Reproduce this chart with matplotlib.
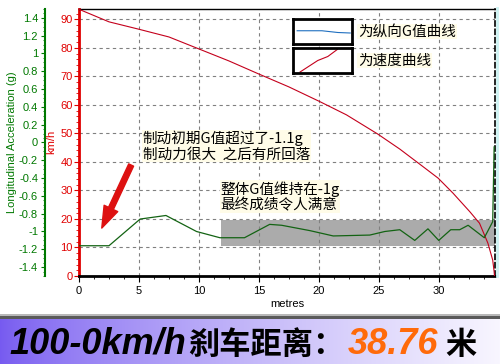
import matplotlib
matplotlib.use('Agg')
import matplotlib.pyplot as plt
import numpy as np
from matplotlib.patches import Rectangle
from matplotlib.lines import Line2D
from matplotlib.ticker import MultipleLocator

plt.rcParams['font.family'] = ['Liberation Sans', 'Noto Sans CJK SC', 'DejaVu Sans']
plt.rcParams['font.size'] = 8
CJK = ['Noto Sans CJK SC', 'DejaVu Sans']

# speed curve, km/h over metres
dist = [0, 2.5, 5, 7.5, 10, 12.5, 15, 17.5, 20.1, 22.3, 24.9, 26.75, 28.7, 29.95,
        31.2, 32.6, 33.4, 34.1, 34.5, 34.62, 34.65]
speed = [93.5, 89.1, 86.5, 83.8, 79.6, 75.4, 70.8, 66.3, 61.1, 56.5, 49.8, 44.5, 38.3, 34.3,
         29.0, 22.5, 18.5, 11.5, 5.6, 1.5, 0]

# longitudinal G over metres
g_dist = [0, 2.5, 5.1, 7.25, 9.8, 11.75, 13.8, 15.9, 16.9, 19.25, 21.2, 24.25, 25.5, 26.75,
          28.0, 29.1, 30.0, 31.0, 31.75, 32.45, 33.8, 34.5, 34.62]
g_val = [-1.16, -1.16, -0.86, -0.82, -1.0, -1.07, -1.07, -0.92, -0.93, -0.99, -1.05, -1.04,
         -1.0, -0.98, -1.10, -0.97, -1.10, -0.98, -0.98, -0.93, -1.07, -0.89, -0.05]

# grey band (drawn on the km/h scale)
band_x = [11.85, 34.65]
band_lo, band_hi = 10.5, 19.8

x_ticks = [0, 5, 10, 15, 20, 25, 30]
kmh_ticks = [0, 10, 20, 30, 40, 50, 60, 70, 80, 90]
g_ticks = [-1.4, -1.2, -1.0, -0.8, -0.6, -0.4, -0.2, 0, 0.2, 0.4, 0.6, 0.8, 1.0, 1.2, 1.4]
g_labels = ['-1.4', '-1.2', '-1', '-0.8', '-0.6', '-0.4', '-0.2', '0',
            '0.2', '0.4', '0.6', '0.8', '1', '1.2', '1.4']

# little sample lines inside the legend boxes
leg_g_x = [0.07, 0.49, 0.76, 0.97]
leg_g_y = [0.53, 0.53, 0.46, 0.44]
leg_v_x = [0.12, 0.42, 0.59, 0.75]
leg_v_y = [0.04, 0.5, 0.66, 0.94]

W, H = 500, 364
RED = '#e00000'
GREEN = '#007800'

fig = plt.figure(figsize=(5, 3.64), dpi=100)
ax = fig.add_axes([79 / W, 1 - 276 / H, (494.5 - 79) / W, 267 / H])
ax.set_xlim(0, 34.65)
ax.set_ylim(0, 93.6)

ax.grid(True, color='#808080', ls=(0, (3, 3)), lw=0.8, zorder=0)
ax.fill_between(band_x, band_lo, band_hi, color='#ababab', lw=0, zorder=1)
ax.plot(dist, speed, color='#c4001c', lw=0.8, zorder=3)

ax.set_xticks(x_ticks)
ax.xaxis.set_minor_locator(MultipleLocator(1.25))
ax.tick_params(axis='x', which='major', length=4, pad=3, labelsize=8)
ax.tick_params(axis='x', which='minor', length=2.5)
ax.set_yticks(kmh_ticks)
ax.yaxis.set_minor_locator(MultipleLocator(2))
ax.tick_params(axis='y', which='major', length=3.5, pad=1, color=RED, labelcolor=RED, labelsize=8)
ax.tick_params(axis='y', which='minor', length=2, color=RED)

ax.spines['left'].set_color(RED)
ax.spines['left'].set_linewidth(2)
ax.spines['bottom'].set_linewidth(2)
ax.spines['top'].set_linewidth(1)
ax.spines['right'].set_linestyle((0, (3, 2)))
ax.spines['right'].set_linewidth(1.2)

# G axis on the far left
ax2 = ax.twinx()
ax2.set_ylim(-1.5, 1.5)
ax2.plot(g_dist, g_val, color='#136313', lw=0.9, zorder=4)
ax2.yaxis.set_ticks_position('left')
ax2.yaxis.set_label_position('left')
ax2.spines['left'].set_position(('axes', (45 - 79) / 415.5))
ax2.spines['left'].set_color(GREEN)
ax2.spines['left'].set_linewidth(1.5)
for s in ['right', 'top', 'bottom']:
    ax2.spines[s].set_visible(False)
ax2.set_yticks(g_ticks, g_labels)
ax2.yaxis.set_minor_locator(MultipleLocator(0.05))
ax2.tick_params(axis='y', which='major', length=3, pad=2, color=GREEN, labelcolor=GREEN, labelsize=8)
ax2.tick_params(axis='y', which='minor', length=1.5, color=GREEN)

fig.text(51 / W, 1 - 142 / H, 'km/h', rotation=90, color=RED, ha='center', va='center', fontsize=8)
fig.text(12 / W, 1 - 142 / H, 'Longitudinal Acceleration (g)', rotation=90, color=GREEN,
         ha='center', va='center', fontsize=8)
fig.text(287 / W, 1 - 304 / H, 'metres', ha='center', va='center', fontsize=8)

box = dict(fc='#fffce8', ec='none', pad=0.5)
ax.text(5.3, 45.6, '制动初期G值超过了-1.1g\n制动力很大  之后有所回落', family=CJK,
        fontsize=10.5, va='center', ha='left', linespacing=1.1, bbox=box, zorder=6)
ax.text(11.8, 27.8, '整体G值维持在-1g\n最终成绩令人满意', family=CJK,
        fontsize=10.5, va='center', ha='left', linespacing=1.1, bbox=box, zorder=6)

ax.annotate('', xy=(1.9, 16.8), xytext=(4.35, 38.9),
            arrowprops=dict(arrowstyle='simple,head_length=1.3,head_width=0.9,tail_width=0.32',
                            color='#dd1111', mutation_scale=12, shrinkA=0, shrinkB=0), zorder=7)

# legend boxes
for top, xs, ys, col, label in [(19, leg_g_x, leg_g_y, '#1f6fc0', '为纵向G值曲线'),
                                (48, leg_v_x, leg_v_y, '#c4001c', '为速度曲线')]:
    lax = fig.add_axes([293 / W, 1 - (top + 25) / H, 59 / W, 25 / H])
    lax.set_xlim(0, 1)
    lax.set_ylim(0, 1)
    lax.plot(xs, ys, color=col, lw=0.8)
    lax.set_xticks([])
    lax.set_yticks([])
    for s in lax.spines.values():
        s.set_linewidth(2)
    fig.text(358 / W, 1 - (top + 12.5) / H, label, family=CJK, fontsize=10.5,
             va='center', ha='left', bbox=box)

fig.add_artist(Line2D([496.5 / W] * 2, [1 - 8 / H, 1 - 276 / H], color='#cdf2f2', lw=2))

# bottom banner
bax = fig.add_axes([0, 0, 1, 45 / H])
t = np.linspace(0, 1, 500) ** 0.75
left = np.array([118, 90, 240]) / 255
right = np.array([248, 246, 255]) / 255
grad = left[None, :] + (right - left)[None, :] * t[:, None]
bax.imshow(grad[None, :, :], aspect='auto', extent=[0, 1, 0, 1])
bax.axis('off')
fig.add_artist(Rectangle((0, 45 / H), 1, 3 / H, transform=fig.transFigure, color='#5a5a5a', lw=0))
fig.add_artist(Rectangle((0, 48 / H), 1, 2 / H, transform=fig.transFigure, color='#b8b8b8', lw=0))

base = 1 - 354 / H
fig.text(9 / W, base, '100-0km/h', fontsize=26, weight='bold', style='italic',
         family='Liberation Sans', va='baseline')
fig.text(188 / W, base, '刹车距离：', fontsize=22.5, weight='bold', family=CJK, va='baseline')
fig.text(348 / W, base, '38.76', fontsize=26, weight='bold', style='italic',
         family='Liberation Sans', color='#ff6a0a', va='baseline')
fig.text(445 / W, base, '米', fontsize=22.5, weight='bold', family=CJK, va='baseline')

fig.savefig('out.png', dpi=100, facecolor='white')
